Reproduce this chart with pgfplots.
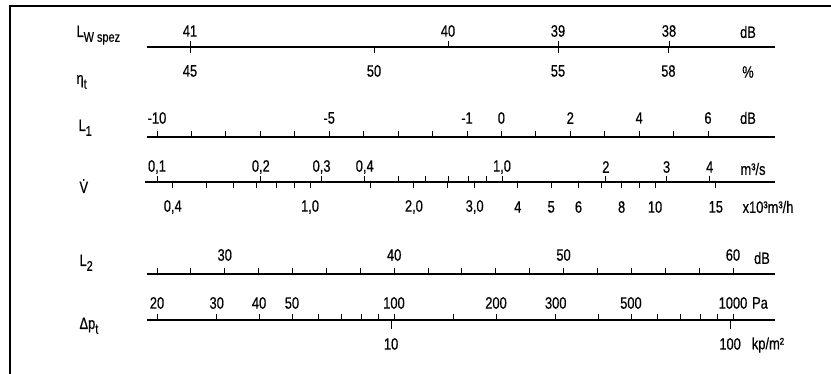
\documentclass[border=0pt]{standalone}
\usepackage{fontspec}
\setmainfont{Liberation Sans}[FakeStretch=0.78, FakeBold=0.5]
\usepackage{pgfplots}
\pgfplotsset{compat=1.18}
\pgfdeclareplotmark{tu}{\pgfpathmoveto{\pgfpointorigin}\pgfpathlineto{\pgfpoint{0pt}{6pt}}\pgfusepathqstroke}
\pgfdeclareplotmark{td}{\pgfpathmoveto{\pgfpointorigin}\pgfpathlineto{\pgfpoint{0pt}{-6pt}}\pgfusepathqstroke}
\pgfdeclareplotmark{tdl}{\pgfpathmoveto{\pgfpointorigin}\pgfpathlineto{\pgfpoint{0pt}{-9pt}}\pgfusepathqstroke}
\newcommand{\sub}[1]{\raisebox{-0.55ex}{\fontsize{14}{14}\selectfont #1}}
\newcommand{\bigf}{\fontsize{16.5}{18}\selectfont}
\pgfplotsset{
  lab/.style={nodes near coords, point meta=explicit symbolic,
    nodes near coords style={anchor=center, inner sep=0pt, yshift=#1, font=\bigf}},
  tk/.style={only marks, mark=#1, mark options={line width=0.9pt}},
}
\begin{document}
\begin{tikzpicture}[every node/.append style={font=\bigf}]
\begin{axis}[
  scale only axis, width=831pt, height=374pt,
  xmin=0, xmax=831, ymin=0, ymax=374, y dir=reverse,
  hide axis, clip=false,
  every axis plot/.append style={black},
]
% frame
\addplot[line width=1.4pt] coordinates {(10,374) (10,6) (831,6)};
% scale lines
\addplot[line width=1.1pt] coordinates {(147,47) (775,47)};
\addplot[line width=1.1pt] coordinates {(147,137) (775,137)};
\addplot[line width=1.1pt] coordinates {(145,182) (775,182)};
\addplot[line width=1.1pt] coordinates {(147,274) (775,274)};
\addplot[line width=1.1pt] coordinates {(147,320) (775,320)};

% L_W spez (dB), ticks up
\addplot[tk=tu, lab=16pt] table[x=x, y expr=47, meta=l] {
x l
190 41
448 40
558 39
669 38
};
% eta_t (%), ticks down
\addplot[tk=td, lab=-24pt] table[x expr={190+36.8*(\thisrow{v}-45)}, y expr=47, meta=l] {
v l
45 45
50 50
55 55
58 58
};

% L_1 (dB)
\addplot[tk=tu] table[x expr={157+34.44*(\thisrow{v}+10)}, y expr=137] {
v
-10
-9
-8
-7
-6
-5
-4
-3
-2
-1
0
1
2
3
4
5
6
};
\addplot[only marks, mark=none, lab=19pt] table[x expr={157+34.44*(\thisrow{v}+10)}, y expr=137, meta=l] {
v l
-10 -10
-5 -5
-1 -1
0 0
2 2
4 4
6 6
};

% V (m^3/s), upper ticks
\addplot[tk=tu] table[x expr={502+345*log10(\thisrow{v})}, y expr=182] {
v
0.1
0.2
0.3
0.4
0.5
0.6
0.7
0.8
0.9
1.0
2
3
4
};
\addplot[only marks, mark=none, lab=15pt] table[x expr={502+345*log10(\thisrow{v})}, y expr=182, meta=l] {
v l
0.1 0,1
0.2 0,2
0.3 0,3
0.4 0,4
1.0 1,0
2 2
3 3
4 4
};
% V (10^3 m^3/h), lower ticks
\addplot[tk=td] table[x expr={502+345*log10(\thisrow{v}/3.6)}, y expr=182] {
v
0.4
0.5
0.6
0.7
0.8
0.9
1.0
1.5
2.0
2.5
3.0
4
5
6
7
8
9
10
15
};
\addplot[only marks, mark=none, lab=-25pt] table[x expr={502+345*log10(\thisrow{v}/3.6)}, y expr=182, meta=l] {
v l
0.4 0,4
1.0 1,0
2.0 2,0
3.0 3,0
4 4
5 5
6 6
8 8
10 10
15 15
};

% L_2 (dB)
\addplot[tk=tu] table[x expr={157+16.94*(\thisrow{v}-26)}, y expr=274] {
v
26
28
30
32
34
36
38
40
42
44
46
48
50
52
54
56
58
60
};
\addplot[only marks, mark=none, lab=19pt] table[x expr={157+16.94*(\thisrow{v}-26)}, y expr=274, meta=l] {
v l
30 30
40 40
50 50
60 60
};

% Delta p_t (Pa), upper ticks
\addplot[tk=tu] table[x expr={394+339*log10(\thisrow{v}/100)}, y expr=320] {
v
20
30
40
50
60
70
80
90
100
150
200
300
400
500
600
700
800
900
1000
};
\addplot[only marks, mark=none, lab=17pt] table[x expr={394+339*log10(\thisrow{v}/100)}, y expr=320, meta=l] {
v l
20 20
30 30
40 40
50 50
100 100
200 200
300 300
500 500
1000 1000
};
% Delta p_t (kp/m^2), lower ticks
\addplot[tk=tdl, lab=-24pt] table[x expr={394+339*log10(9.80665*\thisrow{v}/100)}, y expr=320, meta=l] {
v l
10 10
100 100
};

% units
\node at (axis cs:748,32) {dB};
\node at (axis cs:748,72) {\%};
\node at (axis cs:748,118) {dB};
\node at (axis cs:753,169) {m³/s};
\node at (axis cs:768,207) {x10³m³/h};
\node at (axis cs:762,258) {dB};
\node at (axis cs:760,303) {Pa};
\node at (axis cs:768,345) {kp/m²};

% row labels
\node[anchor=base west] at (axis cs:73,37) {L\sub{W spez}};
\node[anchor=base west] at (axis cs:73,84) {η\sub{t}};
\node[anchor=base west] at (axis cs:75,131) {L\sub{1}};
\node[anchor=base west] at (axis cs:76,193) {\.{V}};
\node[anchor=base west] at (axis cs:76,266) {L\sub{2}};
\node[anchor=base west] at (axis cs:76,329) {Δp\sub{t}};
\end{axis}
\pgfresetboundingbox
\path (current axis.south west) rectangle (current axis.north east);
\end{tikzpicture}
\end{document}
